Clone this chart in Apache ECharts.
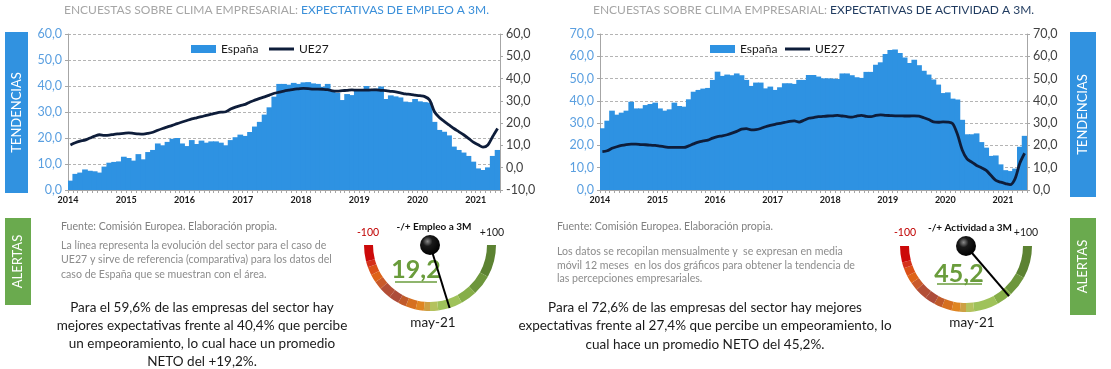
<!DOCTYPE html>
<html><head><meta charset="utf-8">
<script src="https://cdn.jsdelivr.net/npm/echarts@6/dist/echarts.min.js"></script>
<style>html,body{margin:0;padding:0;background:#fff}#c{width:1111px;height:369px}</style>
</head><body><div id="c"></div>
<script>
const years = ['2014','2015','2016','2017','2018','2019','2020','2021'];
const monthCodes = ['01','02','03','04','05','06','07','08','09','10','11','12'];
const lastMonths2021 = 5;

const empleoEspana = [
 3.6, 6.2, 6.7, 7.9, 7.4, 7.2, 6.7, 9.0, 10.5, 10.8, 11.0, 12.8,
 12.3, 11.3, 13.8, 11.8, 14.6, 15.4, 17.9, 17.2, 18.5, 19.7, 20.0, 17.9,
 16.9, 19.2, 17.7, 19.0, 18.2, 18.7, 18.7, 18.2, 17.2, 19.2, 20.3, 21.3,
 20.8, 22.3, 24.4, 26.2, 29.0, 31.8, 35.9, 40.8, 40.8, 40.5, 41.2, 40.8,
 41.4, 41.5, 41.0, 40.8, 39.7, 40.8, 38.2, 37.4, 34.6, 36.9, 36.5, 38.2,
 38.5, 40.0, 38.7, 39.0, 39.8, 35.0, 36.4, 36.0, 35.6, 34.0, 33.8, 35.0,
 34.1, 33.8, 33.6, 26.2, 23.1, 22.4, 21.0, 16.7, 15.4, 14.4, 13.1, 10.9,
 8.3, 7.7, 8.7, 13.1, 15.4
];
const empleoUE27 = [
 10.2, 11.2, 11.9, 12.4, 13.3, 14.2, 14.8, 14.5, 14.6, 15.0, 15.2, 15.4,
 15.6, 15.4, 15.2, 15.1, 15.4, 15.9, 16.8, 17.6, 18.3, 19.0, 19.8, 20.5,
 21.2, 21.9, 22.4, 22.9, 23.5, 24.0, 24.5, 24.9, 25.1, 26.3, 27.2, 27.9,
 28.4, 29.5, 30.3, 31.1, 31.8, 32.6, 33.4, 33.9, 34.4, 34.8, 35.2, 35.4,
 35.6, 35.5, 35.3, 35.3, 35.2, 35.0, 34.5, 34.4, 34.6, 34.7, 34.9, 34.8,
 34.8, 34.8, 34.9, 34.9, 34.7, 34.6, 34.3, 34.0, 33.6, 33.1, 32.9, 32.6,
 32.3, 31.9, 30.4, 25.1, 22.5, 20.8, 19.2, 17.6, 16.2, 14.8, 13.2, 11.5,
 10.3, 9.2, 10.2, 14.0, 17.6
];
const actividadEspana = [
 27.7, 31.1, 35.6, 33.8, 34.7, 35.6, 39.6, 36.6, 36.6, 38.1, 38.6, 39.2,
 36.6, 35.6, 36.2, 39.2, 37.7, 37.4, 40.7, 44.1, 44.9, 45.5, 45.8, 49.4,
 53.1, 51.2, 51.8, 51.5, 52.3, 51.5, 49.4, 46.7, 48.2, 48.2, 45.6, 46.4,
 44.9, 46.1, 47.9, 47.9, 47.6, 49.4, 49.4, 51.6, 51.6, 50.9, 50.1, 50.1,
 50.0, 49.8, 52.3, 52.3, 51.5, 50.6, 50.3, 53.0, 53.0, 56.2, 57.3, 61.0,
 62.8, 63.1, 61.5, 59.5, 57.0, 58.5, 56.0, 53.5, 51.8, 49.6, 47.3, 43.5,
 43.8, 41.0, 40.6, 31.5, 25.0, 25.0, 25.4, 21.5, 19.0, 15.3, 15.5, 11.5,
 8.9, 8.5, 9.6, 19.4, 24.3
];
const actividadUE27 = [
 17.2, 17.6, 18.7, 19.4, 20.0, 20.4, 20.6, 20.6, 20.4, 20.3, 20.1, 20.0,
 19.7, 19.4, 19.1, 19.1, 19.1, 19.1, 19.8, 20.7, 21.5, 22.0, 22.4, 23.3,
 23.9, 24.3, 24.8, 25.5, 26.3, 27.3, 27.5, 27.0, 27.1, 27.6, 28.4, 29.0,
 29.5, 29.9, 30.3, 30.8, 31.0, 30.5, 31.3, 32.2, 32.5, 32.9, 33.0, 33.2,
 33.3, 33.5, 33.2, 32.9, 32.7, 33.2, 33.5, 33.0, 32.9, 33.5, 33.7, 33.5,
 33.4, 33.3, 33.3, 33.2, 33.2, 33.3, 33.1, 32.4, 31.6, 30.6, 30.4, 30.6,
 30.5, 29.8, 25.0, 18.0, 14.0, 12.5, 11.0, 10.0, 8.8, 6.5, 4.3, 3.5,
 2.9, 2.4, 5.0, 12.0, 16.5
];

const gaugeEmpleo = 19.2;
const gaugeActividad = 45.2;
const gaugeMin = -100, gaugeMax = 100;
const gaugePeriod = 'may-21';

const categories = [];
years.forEach(y => monthCodes.forEach((m, i) => {
  if (y !== '2021' || i < lastMonths2021) categories.push(y + '-' + m);
}));

const BAR = '#2e92e2', LINE = '#0e1d3a';
const FONT = 'Lato';
const fmt1 = v => v.toFixed(1).replace('.', ',');

function xAxisFor(gi) {
  return {
    type: 'category', gridIndex: gi, data: categories, boundaryGap: true,
    axisLine: { lineStyle: { color: '#a6a6a6', width: 1 } },
    axisTick: { show: true, interval: 0, length: 3, lineStyle: { color: '#a6a6a6' } },
    axisLabel: { interval: 11, formatter: v => v.slice(0, 4), fontFamily: FONT, fontSize: 9, fontWeight: 'bold', color: '#1a1a1a', margin: 6, padding: [0, 5, 0, 0] }
  };
}
function yAxisFor(gi, pos, min, max, color, split) {
  return {
    type: 'value', gridIndex: gi, position: pos, min, max, interval: 10,
    axisLine: { show: true, lineStyle: { color: '#a6a6a6' } },
    axisTick: { show: true, length: 3, lineStyle: { color: '#a6a6a6' } },
    splitLine: { show: split, lineStyle: { color: '#b4b4b4', type: [3, 2], width: 1 } },
    axisLabel: { formatter: fmt1, color, fontFamily: FONT, fontSize: 12.5, margin: 6 }
  };
}

const gaugeColors = [
  [0.08, '#cc0a0a'], [0.11, '#d4301a'], [0.15, '#db5018'], [0.19, '#de6418'], [0.23, '#c95a2a'],
  [0.29, '#b34e36'], [0.34, '#ad4c3a'], [0.38, '#c05a2a'], [0.43, '#d67020'], [0.47, '#df8522'],
  [0.50, '#cda044'], [0.54, '#b4c25e'], [0.66, '#9fc25a'], [0.74, '#86ae48'], [0.84, '#6d963c'], [1, '#5c8232']
];
function gauge(cx, cy, val, name, dx, dy) {
  return {
    type: 'gauge', center: [cx, cy], radius: 66, startAngle: 180, endAngle: 360, clockwise: false,
    min: gaugeMin, max: gaugeMax,
    axisLine: { lineStyle: { width: 9, color: gaugeColors } },
    splitLine: { show: false }, axisTick: { show: false }, axisLabel: { show: false },
    progress: { show: false },
    pointer: { show: true, icon: 'rect', length: 66, width: 2, itemStyle: { color: '#000' } },
    anchor: { show: true, showAbove: true, size: 20, itemStyle: { color: { type: 'radial', x: 0.38, y: 0.32, r: 0.7, colorStops: [{ offset: 0, color: '#8a8a8a' }, { offset: 0.35, color: '#1a1a1a' }, { offset: 1, color: '#000' }] } } },
    title: { show: true, offsetCenter: [4, -18], fontFamily: FONT, fontSize: 10, fontWeight: 'bold', color: '#111' },
    detail: { offsetCenter: [dx, dy], formatter: fmt1, fontFamily: FONT, fontSize: 25, fontWeight: 'bold', color: '#6a9c3c' },
    data: [{ value: val, name }]
  };
}

function txt(x, y, text, o) {
  return { type: 'text', x, y, style: Object.assign({ text, fontFamily: FONT, fontSize: 10, fill: '#333', align: 'left', verticalAlign: 'middle' }, o || {}) };
}
function vbox(x, y, w, h, fill, label) {
  return [
    { type: 'rect', shape: { x, y, width: w, height: h }, style: { fill } },
    { type: 'text', x: x + w / 2, y: y + h / 2, rotation: Math.PI / 2, style: { text: label, fill: '#fff', fontFamily: FONT, fontSize: 13, align: 'center', verticalAlign: 'middle' } }
  ];
}
function legendPair(xBar, xLine) {
  const ts = { fontFamily: FONT, fontSize: 12, color: '#1a1a1a' };
  return [
    { left: xBar, top: 38, icon: 'rect', itemWidth: 25, itemHeight: 8, itemGap: 4, textStyle: ts, data: ['España'] },
    { left: xLine, top: 38, icon: 'rect', itemWidth: 25, itemHeight: 3, itemGap: 4, textStyle: ts, data: ['UE27'] }
  ];
}
const barStyle = { color: BAR };

const chart = echarts.init(document.getElementById('c'), null, { renderer: 'canvas' });
chart.setOption({
  animation: false,
  grid: [
    { left: 68, top: 34, width: 432, height: 156 },
    { left: 600, top: 34, width: 427, height: 156 }
  ],
  legend: [...legendPair(186, 264), ...legendPair(705, 780)],
  xAxis: [xAxisFor(0), xAxisFor(1)],
  yAxis: [
    yAxisFor(0, 'left', 0, 60, '#5a9fe0', true),
    yAxisFor(0, 'right', -10, 60, '#404040', false),
    yAxisFor(1, 'left', 0, 70, '#5a9fe0', true),
    yAxisFor(1, 'right', 0, 70, '#404040', false)
  ],
  series: [
    { name: 'España', type: 'bar', xAxisIndex: 0, yAxisIndex: 0, data: empleoEspana, barWidth: '118%', itemStyle: barStyle },
    { name: 'UE27', type: 'line', xAxisIndex: 0, yAxisIndex: 1, data: empleoUE27, symbol: 'none', smooth: 0.3, lineStyle: { color: LINE, width: 2.8 }, itemStyle: { color: LINE } },
    { name: 'España', type: 'bar', xAxisIndex: 1, yAxisIndex: 2, data: actividadEspana, barWidth: '118%', itemStyle: barStyle },
    { name: 'UE27', type: 'line', xAxisIndex: 1, yAxisIndex: 3, data: actividadUE27, symbol: 'none', smooth: 0.3, lineStyle: { color: LINE, width: 2.8 }, itemStyle: { color: LINE } },
    gauge(430, 245, gaugeEmpleo, '-/+ Empleo a 3M', -14, 25),
    gauge(966, 246, gaugeActividad, '-/+ Actividad a 3M', -7, 28)
  ],
  graphic: [
    ...vbox(5, 32, 23, 161, '#3192e0', 'TENDENCIAS'),
    ...vbox(5, 218, 26, 87, '#6aaa4e', 'ALERTAS'),
    ...vbox(1070, 32, 26, 165, '#3192e0', 'TENDENCIAS'),
    ...vbox(1070, 218, 26, 97, '#6aaa4e', 'ALERTAS'),
    { type: 'text', x: 64, y: 10, style: { text: '{g|ENCUESTAS SOBRE CLIMA EMPRESARIAL: }{b|EXPECTATIVAS DE EMPLEO A 3M.}', verticalAlign: 'middle', rich: { g: { fontFamily: FONT, fontSize: 12, fill: '#a6a6a6' }, b: { fontFamily: FONT, fontSize: 12, fill: '#3a8fd9' } } } },
    { type: 'text', x: 593, y: 10, style: { text: '{g|ENCUESTAS SOBRE CLIMA EMPRESARIAL: }{b|EXPECTATIVAS DE ACTIVIDAD A 3M.}', verticalAlign: 'middle', rich: { g: { fontFamily: FONT, fontSize: 12, fill: '#a6a6a6' }, b: { fontFamily: FONT, fontSize: 12, fill: '#1f3a5f' } } } },
    txt(61, 227, 'Fuente: Comisión Europea. Elaboración propia.', { fill: '#808080', fontSize: 10.6 }),
    txt(61, 238, 'La línea representa la evolución del sector para el caso de\nUE27 y sirve de referencia (comparativa) para los datos del\ncaso de España que se muestran con el área.', { fill: '#8c8c8c', fontSize: 10.6, verticalAlign: 'top', lineHeight: 14.5 }),
    txt(202, 298, 'Para el 59,6% de las empresas del sector hay\nmejores expectativas frente al 40,4% que percibe\nun empeoramiento, lo cual hace un promedio\nNETO del +19,2%.', { fill: '#1a1a1a', fontSize: 13.5, align: 'center', verticalAlign: 'top', lineHeight: 18.3 }),
    txt(557, 227, 'Fuente: Comisión Europea. Elaboración propia.', { fill: '#808080', fontSize: 10.6 }),
    txt(557, 245, 'Los datos se recopilan mensualmente y  se expresan en media\nmóvil 12 meses  en los dos gráficos para obtener la tendencia de\nlas percepciones empresariales.', { fill: '#8c8c8c', fontSize: 10.6, verticalAlign: 'top', lineHeight: 13.5 }),
    txt(705, 298, 'Para el 72,6% de las empresas del sector hay mejores\nexpectativas frente al 27,4% que percibe un empeoramiento, lo\ncual hace un promedio NETO del 45,2%.', { fill: '#1a1a1a', fontSize: 13.5, align: 'center', verticalAlign: 'top', lineHeight: 18.5 }),
    txt(368, 233, '-100', { fill: '#c00000', fontSize: 10.5, align: 'center' }),
    txt(492, 233, '+100', { fill: '#1a1a1a', fontSize: 10.5, align: 'center' }),
    txt(905, 233, '-100', { fill: '#c00000', fontSize: 10.5, align: 'center' }),
    txt(1026, 233, '+100', { fill: '#1a1a1a', fontSize: 10.5, align: 'center' }),
    txt(433, 323, gaugePeriod, { fill: '#1a1a1a', fontSize: 13.5, align: 'center' }),
    txt(972, 323, gaugePeriod, { fill: '#1a1a1a', fontSize: 13.5, align: 'center' }),
    { type: 'line', shape: { x1: 395, y1: 282, x2: 437, y2: 282 }, style: { stroke: '#6a9c3c', lineWidth: 1.5 } },
    { type: 'line', shape: { x1: 937, y1: 284, x2: 982, y2: 284 }, style: { stroke: '#6a9c3c', lineWidth: 1.5 } }
  ]
});
</script>
</body></html>
